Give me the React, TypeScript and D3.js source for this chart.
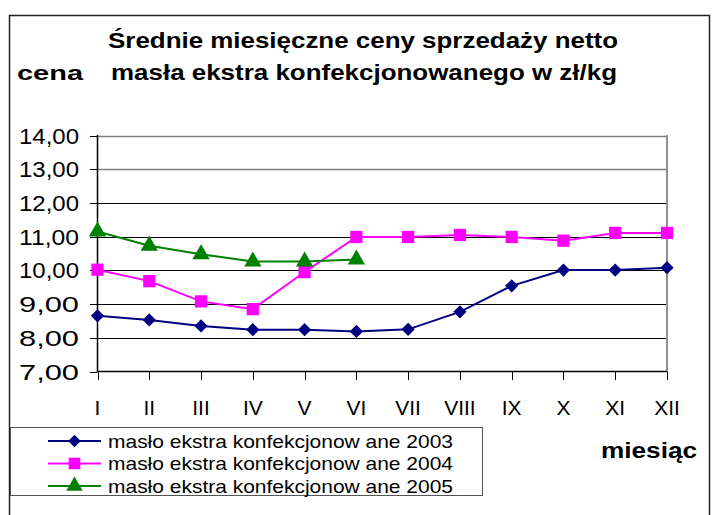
import React from 'react';
import * as d3 from 'd3';

const months = ['I', 'II', 'III', 'IV', 'V', 'VI', 'VII', 'VIII', 'IX', 'X', 'XI', 'XII'];
const values2003 = [8.65, 8.53, 8.35, 8.24, 8.24, 8.19, 8.25, 8.77, 9.54, 10.01, 10.01, 10.08];
const values2004 = [10.02, 9.68, 9.08, 8.85, 9.95, 10.99, 10.99, 11.05, 10.99, 10.88, 11.11, 11.11];
const values2005 = [11.15, 10.73, 10.48, 10.26, 10.26, 10.32];
const yTicks = [7, 8, 9, 10, 11, 12, 13, 14];
const seriesNames = [
  'masło ekstra konfekcjonow ane 2003',
  'masło ekstra konfekcjonow ane 2004',
  'masło ekstra konfekcjonow ane 2005',
];

const font = '"Liberation Sans", Arial, sans-serif';
const plMoney = d3.formatLocale({ decimal: ',', thousands: ' ', grouping: [3], currency: ['', ' zł'] }).format('.2f');

const series = [
  { name: seriesNames[0], values: values2003, color: '#000080', symbol: d3.symbolSquare, size: 88, rotate: 45 },
  { name: seriesNames[1], values: values2004, color: '#FF00FF', symbol: d3.symbolSquare, size: 150, rotate: 0 },
  { name: seriesNames[2], values: values2005, color: '#008000', symbol: d3.symbolTriangle, size: 130, rotate: 0 },
];

const App = () => {
  const width = 717;
  const height = 515;
  const x = d3.scalePoint<string>().domain(months).range([97.5, 667]);
  const y = d3.scaleLinear().domain([7, 14]).range([371.5, 135.5]);

  const line = d3.line<number>()
    .x((d, i) => x(months[i]) as number)
    .y((d) => y(d));

  return (
    <svg width={width} height={height} style={{ position: 'absolute', left: 0, top: 0 }}>
      <rect x={0} y={0} width={width} height={height} fill="#fff" />
      {/* outer chart border */}
      <rect x={9.5} y={15.5} width={700} height={520} fill="none" stroke="#222" strokeWidth={1.5} />

      {/* titles */}
      <text x={363} y={48} textAnchor="middle" fontFamily={font} fontWeight="bold" fontSize={22}
        textLength={510} lengthAdjust="spacingAndGlyphs">Średnie miesięczne ceny sprzedaży netto</text>
      <text x={364} y={80} textAnchor="middle" fontFamily={font} fontWeight="bold" fontSize={22}
        textLength={506} lengthAdjust="spacingAndGlyphs">masła ekstra konfekcjonowanego w zł/kg</text>
      <text x={17} y={80} fontFamily={font} fontWeight="bold" fontSize={21}
        textLength={66} lengthAdjust="spacingAndGlyphs">cena</text>
      <text x={697} y={458} textAnchor="end" fontFamily={font} fontWeight="bold" fontSize={22}
        textLength={96} lengthAdjust="spacingAndGlyphs">miesiąc</text>

      {/* gridlines */}
      {yTicks.slice(1).map((t) => (
        <line key={t} x1={97} x2={667} y1={Math.round(y(t)) + 0.5} y2={Math.round(y(t)) + 0.5}
          stroke={t >= 13 ? '#808080' : '#000'} strokeWidth={t >= 13 ? 1.5 : 1} />
      ))}
      {/* plot right border */}
      <line x1={667} x2={667} y1={135} y2={372} stroke="#909090" strokeWidth={2} />

      {/* y axis */}
      <line x1={97.5} x2={97.5} y1={135} y2={372} stroke="#000" strokeWidth={1.5} />
      {yTicks.map((t) => (
        <g key={t}>
          <line x1={90} x2={97} y1={Math.round(y(t)) + 0.5} y2={Math.round(y(t)) + 0.5} stroke="#000" />
          <text x={79} y={y(t) + 8} textAnchor="end" fontFamily={font} fontSize={22}
            textLength={60} lengthAdjust="spacingAndGlyphs" fill="#000">{plMoney(t)}</text>
        </g>
      ))}

      {/* x axis */}
      <line x1={97} x2={667} y1={371.5} y2={371.5} stroke="#000" strokeWidth={1.5} />
      {months.map((m) => (
        <g key={m}>
          <line x1={Math.round(x(m) as number) + 0.5} x2={Math.round(x(m) as number) + 0.5} y1={372} y2={380} stroke="#000" />
          <text x={x(m) as number} y={415} textAnchor="middle" fontFamily={font} fontSize={21} fill="#000">{m}</text>
        </g>
      ))}

      {/* series */}
      {series.map((s) => (
        <g key={s.name}>
          <path d={line(s.values) as string} fill="none" stroke={s.color} strokeWidth={2} />
          {s.values.map((v, i) => (
            <path key={i} d={d3.symbol().type(s.symbol).size(s.size)() as string}
              transform={`translate(${x(months[i])},${y(v)}) rotate(${s.rotate})`} fill={s.color} />
          ))}
        </g>
      ))}

      {/* legend */}
      <rect x={10.5} y={427.5} width={472} height={68} fill="#fff" stroke="#555" strokeWidth={1} />
      {series.map((s, i) => {
        const ly = 441 + i * 22.5;
        return (
          <g key={s.name}>
            <line x1={48} x2={101} y1={ly} y2={ly} stroke={s.color} strokeWidth={2} />
            <path d={d3.symbol().type(s.symbol).size(s.size * 0.9)() as string}
              transform={`translate(74.5,${ly}) rotate(${s.rotate})`} fill={s.color} />
            <text x={108} y={ly + 6.5} fontFamily={font} fontSize={19} fill="#000"
              textLength={345} lengthAdjust="spacingAndGlyphs">{s.name}</text>
          </g>
        );
      })}
    </svg>
  );
};

export default App;
